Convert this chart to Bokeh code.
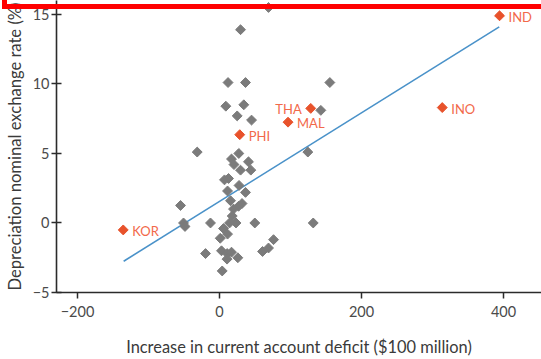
import math
from bokeh.plotting import figure
from bokeh.models import ColumnDataSource, Range1d, FixedTicker, InlineStyleSheet
from bokeh.core.properties import value
from bokeh.embed import file_html
from bokeh.resources import INLINE

# grey countries: increase in current account deficit ($100 million), depreciation (%)
grey_x = [69, 29.6, 12.0, 36.6, 155.4, 8.9, 34.2, 24.9, 45.1, 142.7,
          -31.4, 27.2, 16.9, 40.8, 20.4, 29.6, 44.1, 124.4, 7.0, 12.7,
          27.5, 11.3, 36.6, -54.9, 15.5, 31.7, 19.7, 26.8, 17.9, -50.7,
          -48.6, -12.7, 14.1, 23.2, 49.7, 132.0, 5.6, 11.3, 1.0, 76.1,
          69.0, 60.6, -19.7, 2.8, 10.8, 16.9, 10.6, 25.8, 3.8]
grey_y = [15.5, 13.9, 10.1, 10.1, 10.1, 8.4, 8.5, 7.7, 7.4, 8.1,
          5.1, 5.0, 4.6, 4.4, 4.2, 3.8, 3.8, 5.1, 3.1, 3.2,
          2.7, 2.3, 2.2, 1.26, 1.6, 1.4, 1.0, 1.2, 0.5, 0.0,
          -0.25, 0.0, 0.0, 0.0, 0.0, 0.0, -0.4, -0.8, -1.1, -1.2,
          -1.8, -2.05, -2.2, -2.0, -2.2, -2.1, -2.6, -2.5, -3.45]

# highlighted Asian crisis countries
crisis_names = ["KOR", "PHI", "THA", "MAL", "INO", "IND"]
crisis_x = [-135.6, 28.5, 128.5, 96.5, 313.7, 394.4]
crisis_y = [-0.5, 6.35, 8.24, 7.25, 8.3, 14.9]

# fitted regression line end points
fit_x = [-135, 394]
fit_y = [-2.75, 14.1]

x_ticks = [-200, 0, 200, 400]
y_ticks = [-5, 0, 5, 10, 15]

FONT = "Lato"

# red highlight frame that runs over the top edge of the picture
red_box = InlineStyleSheet(css="""
:host { position: relative; }
:host::after {
  content: ""; position: absolute; left: 2px; top: -30px;
  width: 620px; height: 39px; box-sizing: border-box;
  border: 5px solid #ff0000; pointer-events: none; z-index: 10;
}
""")

p = figure(width=541, height=359, output_backend="svg", toolbar_location=None,
           x_range=Range1d(-229.6, 453.5), y_range=Range1d(-5, 16.0),
           min_border_left=56, min_border_right=0, min_border_top=0,
           min_border_bottom=67, stylesheets=[red_box])
p.outline_line_color = None
p.grid.visible = False
p.background_fill_color = "white"

p.line(fit_x, fit_y, line_color="#4a92c9", line_width=1.6)

p.scatter(grey_x, grey_y, marker="square", size=7, angle=math.pi / 4,
          fill_color="#7b7b7b", line_color="#7b7b7b")

align = ["right" if n == "THA" else "left" for n in crisis_names]
xoff = [-9 if a == "right" else 9 for a in align]
src = ColumnDataSource(dict(x=crisis_x, y=crisis_y, name=crisis_names,
                            align=align, xoff=xoff))
p.scatter("x", "y", source=src, marker="square", size=7, angle=math.pi / 4,
          fill_color="#e8522b", line_color="#e8522b")
p.text("x", "y", text="name", source=src, text_align="align",
       text_baseline="middle", x_offset="xoff", y_offset=1,
       text_font=value(FONT), text_font_size="13px", text_color="#f2694a")

for ax in (p.xaxis[0], p.yaxis[0]):
    ax.axis_line_color = "#2b2b2b"
    ax.axis_line_width = 1.6
    ax.major_tick_line_color = "#2b2b2b"
    ax.major_tick_line_width = 1.5
    ax.minor_tick_line_color = None
    ax.major_label_text_font = FONT
    ax.major_label_text_font_size = "14.5px"
    ax.major_label_text_color = "#4a4a4a"
    ax.axis_label_text_font = FONT
    ax.axis_label_text_font_style = "normal"
    ax.axis_label_text_color = "#3a3a3a"

p.xaxis.axis_label_text_font_size = "16.4px"
p.yaxis.axis_label_text_font_size = "16.6px"

p.xaxis.ticker = FixedTicker(ticks=x_ticks)
p.yaxis.ticker = FixedTicker(ticks=y_ticks)
p.xaxis.major_label_overrides = {t: str(t).replace("-", "\u2212") for t in x_ticks}
p.yaxis.major_label_overrides = {t: str(t).replace("-", "\u2212") for t in y_ticks}

p.xaxis.major_tick_in = 0
p.xaxis.major_tick_out = 6
p.xaxis.major_label_standoff = 7
p.xaxis.axis_label = "Increase in current account deficit ($100 million)"
p.xaxis.axis_label_standoff = 17

p.yaxis.major_tick_in = 5
p.yaxis.major_tick_out = 5
p.yaxis.major_label_standoff = 2
p.yaxis.axis_label = "Depreciation nominal exchange rate (%)"
p.yaxis.axis_label_standoff = 5

open("out.html", "w").write(file_html(p, INLINE))
